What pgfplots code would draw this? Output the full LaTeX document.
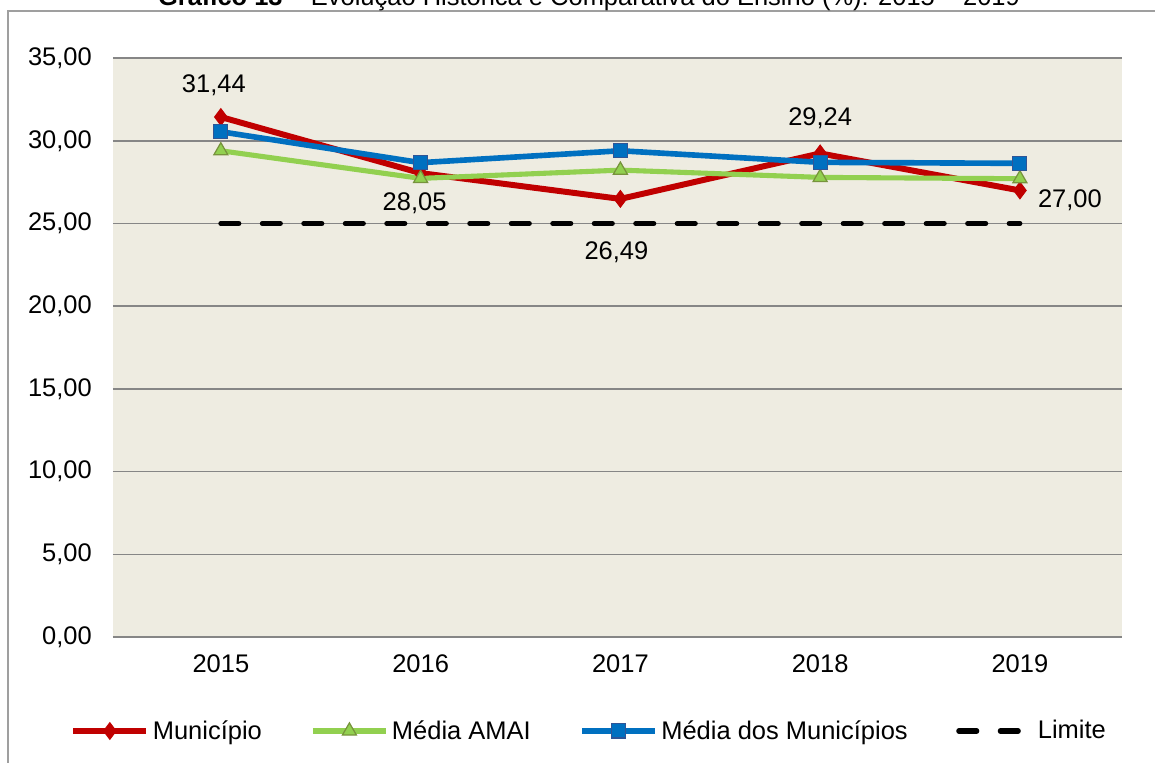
\documentclass[border=0pt]{standalone}
\usepackage{pgfplots}
\pgfplotsset{compat=1.18}
\usepackage{fontspec}
\setmainfont{Liberation Sans}

\definecolor{munred}{HTML}{C00000}
\definecolor{amaigreen}{HTML}{92D050}
\definecolor{amaiedge}{HTML}{77933C}
\definecolor{mediablue}{HTML}{0070C0}
\definecolor{mediaedge}{HTML}{2F5597}
\definecolor{plotbg}{HTML}{EEECE1}
\definecolor{gridgray}{HTML}{868686}

\newcommand{\chartfont}{\fontsize{14.5}{17}\selectfont}

% Municipio with label offsets (px)
\pgfplotstableread{
x y dx dy
0 31.44 -7 32
1 28.05 -6 -30
2 26.49 -4 -53
3 29.24 0 35
4 27.00 50 -10
}\municipio

\begin{document}
\begin{tikzpicture}[x=0.02cm,y=0.02cm]
\useasboundingbox (0,0) rectangle (1155,762);
\draw[gray!75, line width=0.9pt] (8,-20) rectangle (1200,751);
\node[anchor=base, font=\chartfont] at (589,756)
  {\textbf{Gráfico 13} – Evolução Histórica e Comparativa do Ensino (\%): 2015 – 2019};

\begin{axis}[
    at={(2.26cm,2.5cm)}, anchor=south west,
    scale only axis,
    width=20.18cm, height=11.58cm,
    xmin=-0.54, xmax=4.51,
    ymin=0, ymax=35,
    ytick={0,5,...,35},
    xtick={0,1,2,3,4},
    xticklabels={2015,2016,2017,2018,2019},
    ymajorgrids,
    grid style={gridgray, line width=0.9pt},
    axis line style={draw=none},
    major tick length=0pt,
    axis background/.style={fill=plotbg},
    tick label style={font=\chartfont},
    yticklabel style={xshift=-0.3cm},
    xticklabel style={yshift=-0.22cm},
    /pgf/number format/.cd, fixed, fixed zerofill, precision=2, use comma,
    assume math mode=true,
    /pgfplots/.cd,
    clip=false,
    legend columns=4,
    legend style={draw=none, fill=none, font=\chartfont,
        at={(0.4727,-0.1623)}, anchor=center,
        /tikz/every even column/.append style={column sep=0.9cm}},
    legend image code/.code={
        \draw[mark repeat=2, mark phase=2, #1]
            plot coordinates {(0cm,0cm) (0.73cm,0cm) (1.46cm,0cm)};},
]

\addplot[munred, line width=3.4pt, mark=diamond*,
    mark size=4.8pt, mark options={solid, fill=munred, draw=munred, line width=0.5pt},
    point meta=y,
    visualization depends on={\thisrow{dx} \as \dx},
    visualization depends on={\thisrow{dy} \as \dy},
    nodes near coords,
    nodes near coords style={font=\chartfont, text=black, anchor=center,
        xshift=\dx*0.02cm, yshift=\dy*0.02cm}]
  table[x=x, y=y] {\municipio};
\addlegendentry{Município}

\addplot[amaigreen, line width=2.9pt, mark=triangle*,
    mark size=4.6pt, mark options={solid, fill=amaigreen, draw=amaiedge, line width=0.7pt}]
  coordinates {(0,29.40) (1,27.73) (2,28.23) (3,27.79) (4,27.71)};
\addlegendentry{Média AMAI}

\addplot[mediablue, line width=3.2pt, mark=square*,
    mark size=4pt, mark options={solid, fill=mediablue, draw=mediaedge, line width=0.6pt}]
  coordinates {(0,30.55) (1,28.68) (2,29.40) (3,28.70) (4,28.64)};
\addlegendentry{Média dos Municípios}

\addplot[black, line width=2.9pt, line cap=round,
    dash pattern=on 0.36cm off 0.47cm, mark=none]
  coordinates {(0,25) (1,25) (2,25) (3,25) (4,25)};
\addlegendentry{Limite}
\end{axis}
\end{tikzpicture}
\end{document}
